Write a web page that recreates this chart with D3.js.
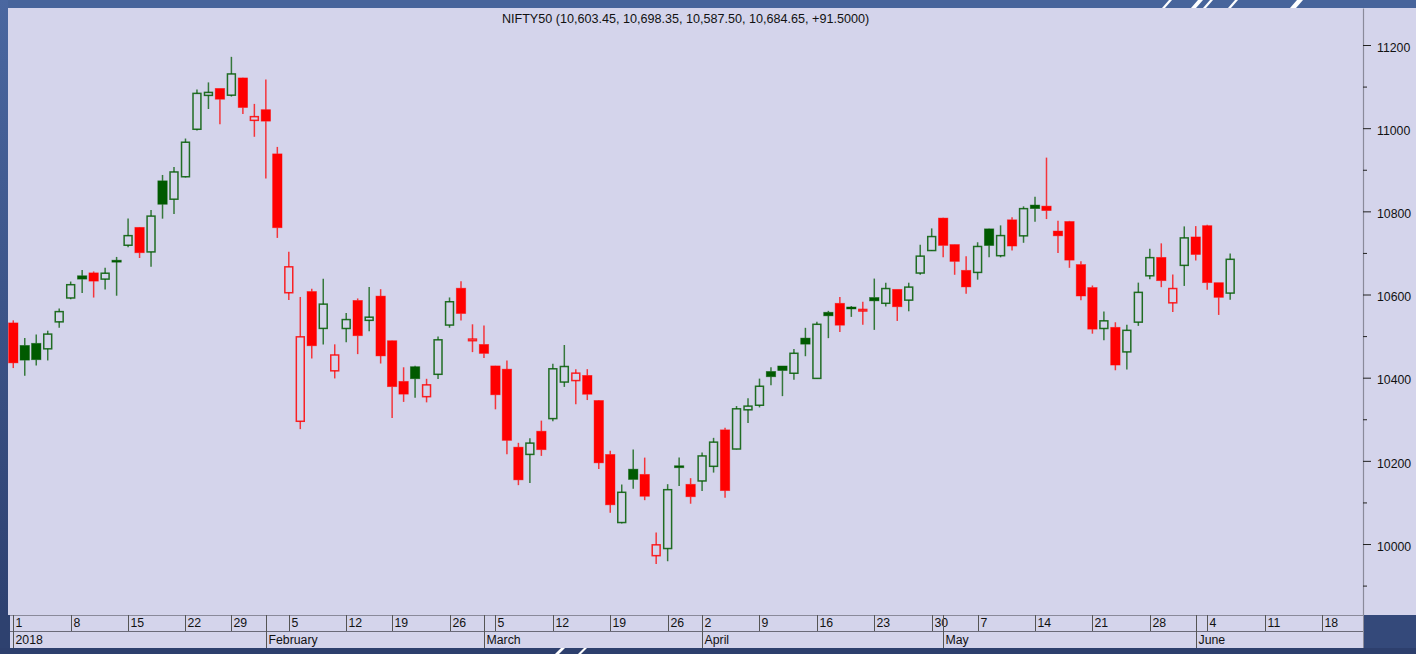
<!DOCTYPE html>
<html>
<head>
<meta charset="utf-8">
<script src="https://cdn.jsdelivr.net/npm/d3@7"></script>
<style>
  html, body { margin: 0; padding: 0; background: #2f4372; overflow: hidden; }
  svg { display: block; }
</style>
</head>
<body>
<div id="chart"></div>
<script>
// NIFTY50 daily candles, Jan - Jun 2018 (trading days only)
const tradingDays = [
  "2018-01-01","2018-01-02","2018-01-03","2018-01-04","2018-01-05","2018-01-08","2018-01-09","2018-01-10","2018-01-11","2018-01-12",
  "2018-01-15","2018-01-16","2018-01-17","2018-01-18","2018-01-19","2018-01-22","2018-01-23","2018-01-24","2018-01-25","2018-01-29",
  "2018-01-30","2018-01-31","2018-02-01","2018-02-02","2018-02-05","2018-02-06","2018-02-07","2018-02-08","2018-02-09","2018-02-12",
  "2018-02-14","2018-02-15","2018-02-16","2018-02-19","2018-02-20","2018-02-21","2018-02-22","2018-02-23","2018-02-26","2018-02-27",
  "2018-02-28","2018-03-01","2018-03-05","2018-03-06","2018-03-07","2018-03-08","2018-03-09","2018-03-12","2018-03-13","2018-03-14",
  "2018-03-15","2018-03-16","2018-03-19","2018-03-20","2018-03-21","2018-03-22","2018-03-23","2018-03-26","2018-03-27","2018-03-28",
  "2018-04-02","2018-04-03","2018-04-04","2018-04-05","2018-04-06","2018-04-09","2018-04-10","2018-04-11","2018-04-12","2018-04-13",
  "2018-04-16","2018-04-17","2018-04-18","2018-04-19","2018-04-20","2018-04-23","2018-04-24","2018-04-25","2018-04-26","2018-04-27",
  "2018-04-30","2018-05-02","2018-05-03","2018-05-04","2018-05-07","2018-05-08","2018-05-09","2018-05-10","2018-05-11","2018-05-14",
  "2018-05-15","2018-05-16","2018-05-17","2018-05-18","2018-05-21","2018-05-22","2018-05-23","2018-05-24","2018-05-25","2018-05-28",
  "2018-05-29","2018-05-30","2018-05-31","2018-06-01","2018-06-04","2018-06-05","2018-06-06"
];
const opens = [
  10531.7,10477.55,10482.65,10469.4,10534.25,10591.7,10645.1,10652.05,10637.05,10682.55,
  10718.5,10761.5,10702.45,10873.4,10829.2,10883.2,10997.4,11078.85,11095.6,11079.35,
  11120.85,11018.8,11044.55,10938.2,10604.3,10295.15,10607.2,10518.5,10416.5,10518.3,
  10585.75,10537.9,10596.2,10488.9,10391.15,10426.45,10354.35,10408.1,10526.55,10615.2,
  10488.95,10479.95,10428.3,10420.5,10232.95,10215.5,10271.3,10301.6,10389.5,10393.05,
  10405.45,10345.15,10215.35,10051.65,10180.0,10167.45,9972.0,9989.15,10188.25,10143.6,
  10151.65,10186.85,10274.55,10228.45,10322.75,10333.7,10415.0,10428.15,10410.65,10495.25,
  10398.3,10557.3,10578.9,10570.0,10560.35,10592.8,10578.9,10612.4,10586.5,10651.65,
  10705.75,10783.85,10720.15,10658.15,10653.15,10757.9,10693.35,10779.65,10741.1,10815.15,
  10812.6,10752.65,10775.6,10672.0,10616.75,10518.3,10521.1,10462.0,10533.55,10645.0,
  10689.3,10580.0,10670.1,10738.45,10765.6,10628.5,10603.45
];
const highs = [
  10537.85,10495.2,10503.6,10513.0,10566.1,10631.2,10659.15,10655.5,10664.6,10690.4,
  10782.65,10762.35,10803.0,10887.5,10906.85,10975.1,11092.9,11110.1,11095.6,11171.55,
  11121.1,11058.4,11117.35,10954.95,10702.75,10594.15,10614.0,10637.8,10480.2,10555.5,
  10590.55,10618.15,10612.85,10489.4,10425.0,10428.55,10397.3,10499.1,10592.95,10631.65,
  10528.4,10525.5,10428.65,10441.35,10243.35,10254.05,10296.7,10433.65,10478.6,10420.35,
  10420.5,10346.3,10224.05,10143.1,10227.3,10207.8,10027.6,10143.9,10207.9,10158.35,
  10220.1,10255.35,10279.75,10331.8,10350.45,10397.75,10424.85,10428.15,10469.25,10519.9,
  10534.5,10560.75,10594.2,10572.2,10582.35,10638.35,10628.4,10612.4,10628.4,10719.8,
  10759.0,10784.65,10720.6,10691.85,10725.65,10758.55,10766.25,10785.55,10812.05,10834.85,
  10929.2,10777.25,10777.1,10680.0,10621.7,10558.9,10533.3,10527.5,10628.6,10709.8,
  10723.05,10648.1,10763.8,10764.55,10767.75,10628.5,10698.35
];
const lows = [
  10423.1,10404.65,10429.55,10441.45,10520.1,10588.55,10603.6,10592.7,10612.35,10597.1,
  10713.8,10687.85,10666.75,10782.4,10793.9,10881.4,10994.55,11046.15,11009.2,11075.95,
  11033.9,10979.3,10878.8,10736.1,10586.8,10276.3,10446.4,10479.55,10398.2,10485.4,
  10456.65,10511.95,10434.05,10302.75,10341.75,10351.55,10340.65,10396.65,10520.1,10537.8,
  10461.45,10447.15,10323.9,10215.9,10141.55,10146.65,10211.9,10295.45,10377.85,10336.3,
  10346.2,10180.25,10075.3,10049.4,10132.95,10105.4,9951.9,9958.55,10139.7,10096.9,
  10127.75,10171.75,10111.3,10227.45,10290.85,10328.5,10381.55,10355.6,10395.15,10451.6,
  10397.7,10495.05,10509.7,10546.2,10527.45,10514.95,10571.4,10536.45,10559.65,10647.55,
  10704.6,10689.8,10647.45,10601.6,10635.65,10689.4,10689.4,10705.8,10724.4,10774.75,
  10781.4,10699.65,10664.2,10586.5,10505.8,10490.25,10417.8,10419.8,10524.55,10637.0,
  10617.65,10558.1,10620.65,10681.8,10611.2,10550.9,10587.5
];
const closes = [
  10435.55,10442.2,10443.2,10504.8,10558.85,10623.6,10637.0,10632.2,10651.2,10681.25,
  10741.55,10700.45,10788.55,10817.0,10894.7,10966.2,11083.7,11086.0,11069.65,11130.4,
  11049.65,11027.7,11016.9,10760.6,10666.55,10498.25,10476.7,10576.85,10454.55,10539.75,
  10500.9,10545.5,10452.3,10378.4,10360.4,10397.45,10382.7,10491.05,10582.6,10554.3,
  10492.85,10458.35,10358.85,10249.25,10154.2,10242.65,10226.85,10421.4,10426.85,10410.9,
  10360.15,10195.15,10094.25,10124.35,10155.25,10114.75,9998.05,10130.65,10184.15,10113.7,
  10211.8,10245.0,10128.4,10325.15,10331.6,10379.35,10402.25,10417.15,10458.65,10480.6,
  10528.35,10548.7,10526.2,10565.3,10564.05,10584.7,10614.35,10570.55,10617.8,10692.3,
  10739.35,10718.05,10679.65,10618.25,10715.5,10717.8,10741.7,10716.55,10806.5,10806.6,
  10801.85,10741.1,10682.7,10596.4,10516.7,10536.7,10430.35,10513.85,10605.15,10688.65,
  10633.3,10614.35,10736.15,10696.2,10628.5,10593.15,10684.65
];
// empty trading days shown after the last candle
const futureDays = [
  "2018-06-07","2018-06-08","2018-06-11","2018-06-12","2018-06-13","2018-06-14","2018-06-15",
  "2018-06-18","2018-06-19","2018-06-20","2018-06-21","2018-06-22"
];
const weekTicks = [
  "2018-01-01","2018-01-08","2018-01-15","2018-01-22","2018-01-29","2018-02-05","2018-02-12","2018-02-19",
  "2018-02-26","2018-03-05","2018-03-12","2018-03-19","2018-03-26","2018-04-02","2018-04-09","2018-04-16",
  "2018-04-23","2018-04-30","2018-05-07","2018-05-14","2018-05-21","2018-05-28","2018-06-04","2018-06-11","2018-06-18"
];
const monthTicks = ["2018-01-01","2018-02-01","2018-03-01","2018-04-02","2018-05-02","2018-06-01"];
const monthLabels = ["2018","February","March","April","May","June"];
const priceTicks = [10000,10200,10400,10600,10800,11000,11200];
const minorPriceTicks = [9900,10100,10300,10500,10700,10900,11100];
const symbol = "NIFTY50";

const W = 1416, H = 654;
const plotLeft = 8, plotRight = 1363, plotTop = 8, plotBottom = 615;
const row1 = 631, row2 = 648;
const green = "#005a00", red = "#ff0000", bg = "#d4d4eb";

const allDays = tradingDays.concat(futureDays);
const dayIndex = new Map(allDays.map((d, i) => [d, i]));
const candles = tradingDays.map((d, i) => ({
  date: d, i: i, open: opens[i], high: highs[i], low: lows[i], close: closes[i],
  prev: i > 0 ? closes[i - 1] : opens[i]
}));

const xScale = d3.scaleLinear().domain([-0.46, 117.57]).range([plotLeft, plotRight]);
const yScale = d3.scaleLinear().domain([9829.3, 11289]).range([plotBottom, plotTop]);
const step = xScale(1) - xScale(0);
const bodyW = step * 0.82;

const svg = d3.select("#chart").append("svg")
  .attr("width", W).attr("height", H)
  .attr("viewBox", [0, 0, W, H])
  .style("font-family", "'Liberation Sans', Arial, Helvetica, sans-serif");

const defs = svg.append("defs");
const lg = defs.append("linearGradient").attr("id", "leftGrad")
  .attr("x1", 0).attr("y1", 0).attr("x2", 0).attr("y2", 1);
lg.append("stop").attr("offset", "0%").attr("stop-color", "#4a67a0");
lg.append("stop").attr("offset", "100%").attr("stop-color", "#2c3e6d");
defs.append("clipPath").attr("id", "plotClip").append("rect")
  .attr("x", plotLeft).attr("y", plotTop)
  .attr("width", plotRight - plotLeft).attr("height", plotBottom - plotTop);

// background
svg.append("rect").attr("width", W).attr("height", H).attr("fill", bg);

// candles
const chart = svg.append("g").attr("clip-path", "url(#plotClip)");
const candleG = chart.selectAll("g.candle").data(candles).join("g").attr("class", "candle");

candleG.each(function (d) {
  const g = d3.select(this);
  const cx = xScale(d.i);
  const col = d.close >= d.prev ? green : red;
  const hollow = d.close > d.open;
  const top = yScale(Math.max(d.open, d.close));
  const bot = yScale(Math.min(d.open, d.close));
  g.append("line")
    .attr("x1", cx).attr("x2", cx)
    .attr("y1", yScale(d.high)).attr("y2", top)
    .attr("stroke", col).attr("stroke-width", 1.5).attr("stroke-opacity", 0.75);
  g.append("line")
    .attr("x1", cx).attr("x2", cx)
    .attr("y1", bot).attr("y2", yScale(d.low))
    .attr("stroke", col).attr("stroke-width", 1.5).attr("stroke-opacity", 0.75);
  if (hollow) {
    g.append("rect")
      .attr("x", cx - bodyW / 2 + 0.75).attr("y", top)
      .attr("width", bodyW - 1.5).attr("height", Math.max(1, bot - top))
      .attr("fill", "none").attr("stroke", col).attr("stroke-width", 1.5)
      .attr("stroke-opacity", 0.85);
  } else {
    g.append("rect")
      .attr("x", cx - bodyW / 2).attr("y", top)
      .attr("width", bodyW).attr("height", Math.max(2, bot - top))
      .attr("fill", col).attr("stroke", col).attr("stroke-width", 0.8)
      .attr("stroke-opacity", 0.5);
  }
});

// right price axis
const yAxis = d3.axisRight(yScale).tickValues(priceTicks).tickSize(8).tickSizeOuter(0)
  .tickFormat(d3.format("d"));
const yAxisG = svg.append("g").attr("transform", `translate(${plotRight},0)`).call(yAxis);
yAxisG.select(".domain").attr("stroke", "#8a8a9a").attr("stroke-width", 1.2);
yAxisG.selectAll(".tick line").attr("stroke", "#222");
yAxisG.selectAll(".tick text")
  .attr("x", 14).attr("dy", "0.5em")
  .attr("fill", "#111").style("font-size", "12.3px");

const yMinor = d3.axisRight(yScale).tickValues(minorPriceTicks).tickSize(4).tickSizeOuter(0)
  .tickFormat("");
const yMinorG = svg.append("g").attr("transform", `translate(${plotRight},0)`).call(yMinor);
yMinorG.select(".domain").remove();
yMinorG.selectAll(".tick line").attr("stroke", "#222");

// bottom date axis (two rows)
const axisG = svg.append("g");
axisG.append("line").attr("x1", 10).attr("x2", plotRight)
  .attr("y1", plotBottom + 0.5).attr("y2", plotBottom + 0.5)
  .attr("stroke", "#8a8a9a");
axisG.append("line").attr("x1", 10).attr("x2", plotRight)
  .attr("y1", row1 + 0.5).attr("y2", row1 + 0.5)
  .attr("stroke", "#6a6a78");
axisG.append("line").attr("x1", plotRight + 0.5).attr("x2", plotRight + 0.5)
  .attr("y1", plotBottom).attr("y2", row2)
  .attr("stroke", "#8a8a9a");

const weekG = axisG.selectAll("g.week").data(weekTicks).join("g").attr("class", "week")
  .attr("transform", d => `translate(${Math.round(xScale(dayIndex.get(d))) + 0.5},0)`);
weekG.append("line").attr("y1", plotBottom).attr("y2", row1).attr("stroke", "#555");
weekG.append("text").attr("x", 2).attr("y", row1 - 4)
  .attr("fill", "#111").style("font-size", "12.3px")
  .text(d => +d.slice(8));

const monthG = axisG.selectAll("g.month").data(monthTicks).join("g").attr("class", "month")
  .attr("transform", d => `translate(${Math.round(xScale(dayIndex.get(d))) + 0.5},0)`);
monthG.append("line").attr("y1", plotBottom).attr("y2", row2).attr("stroke", "#555");
monthG.append("text").attr("x", 2).attr("y", row2 - 4)
  .attr("fill", "#111").style("font-size", "12.3px")
  .text((d, i) => monthLabels[i]);

// title from the last candle
const last = candles[candles.length - 1];
const f2 = d3.format(",.2f");
svg.append("text")
  .attr("x", (plotLeft + plotRight) / 2).attr("y", 23)
  .attr("text-anchor", "middle").attr("fill", "#111").style("font-size", "12.6px")
  .text(`${symbol} (${f2(last.open)}, ${f2(last.high)}, ${f2(last.low)}, ${f2(last.close)}, ${d3.format("+.4f")(last.close - last.prev)})`);

// window frame
const frame = svg.append("g");
frame.append("rect").attr("x", 0).attr("y", 0).attr("width", W).attr("height", plotTop).attr("fill", "#47649b");
frame.append("rect").attr("x", 0).attr("y", 0).attr("width", plotLeft).attr("height", H).attr("fill", "url(#leftGrad)");
frame.append("rect").attr("x", 0).attr("y", plotBottom).attr("width", 10).attr("height", H - plotBottom).attr("fill", "#2e416f");
frame.append("rect").attr("x", plotRight + 1).attr("y", plotBottom).attr("width", W - plotRight).attr("height", H - plotBottom).attr("fill", "#34497a");
frame.append("rect").attr("x", 0).attr("y", row2).attr("width", W).attr("height", H - row2).attr("fill", "#2d3f6d");

// decorative highlights on the frame
const slashTop = [[1162, 3], [1191, 5], [1203, 3], [1228, 3], [1290, 6]];
frame.selectAll("polygon.st").data(slashTop).join("polygon").attr("class", "st")
  .attr("points", d => `${d[0]},${plotTop} ${d[0] + d[1]},${plotTop} ${d[0] + d[1] + 7},0 ${d[0] + 7},0`)
  .attr("fill", "#ffffff");
const slashBottom = [[555, 4], [578, 3]];
frame.selectAll("polygon.sb").data(slashBottom).join("polygon").attr("class", "sb")
  .attr("points", d => `${d[0]},${H} ${d[0] + d[1]},${H} ${d[0] + d[1] + 6},${row2} ${d[0] + 6},${row2}`)
  .attr("fill", "#ffffff");
</script>
</body>
</html>
